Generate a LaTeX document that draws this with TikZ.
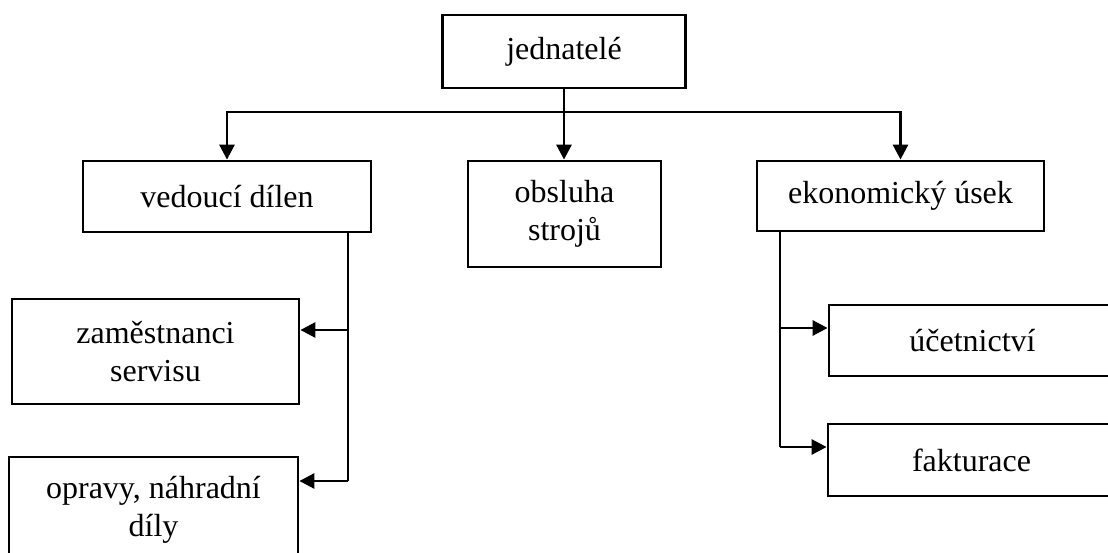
\documentclass[tikz,border=0pt]{standalone}
\usepackage{fontspec}
\setmainfont{Liberation Serif}
\usetikzlibrary{arrows.meta}
\begin{document}
\begin{tikzpicture}[x=1pt,y=-1pt,
  orgbox/.style={draw, line width=2.8pt, inner sep=0pt, align=center,
    font=\fontsize{32}{38}\selectfont},
  link/.style={line width=2.8pt},
  arr/.style={link, -{Triangle[length=15pt,width=15pt]}}]
\useasboundingbox (0,0) rectangle (1108,553);
\clip (0,0) rectangle (1108,553);

% boxes
\node[orgbox, minimum width=243pt, minimum height=73pt] (jed) at (564,51.5) {jednatelé};
\node[orgbox, minimum width=288pt, minimum height=71pt] (ved) at (227,196.5) {vedoucí dílen};
\node[orgbox, minimum width=193pt, minimum height=106pt] (obs) at (564.5,214) {obsluha\\strojů};
\node[orgbox, minimum width=287pt, minimum height=70pt] (eko) at (900.5,196) {ekonomický úsek};
\node[orgbox, minimum width=287pt, minimum height=105pt] (zam) at (155.5,351.5) {zaměstnanci\\servisu};
\node[orgbox, minimum width=289pt, minimum height=105pt] (opr) at (153.5,509.5) {opravy, náhradní\\díly};
\node[orgbox, minimum width=287pt, minimum height=71pt] (uce) at (972.5,340.5) {účetnictví};
\node[orgbox, minimum width=287pt, minimum height=72pt] (fak) at (971.5,460) {fakturace};

% branching points
\coordinate (bar) at (564,112);
\coordinate (vz) at (348,330);
\coordinate (vo) at (348,481);
\coordinate (eu) at (780,328);
\coordinate (ef) at (780,447);

% top level
\draw[link] (jed.south) -- (bar);
\draw[arr] (bar) -| (ved.north);
\draw[arr] (bar) -- (bar |- obs.north);
\draw[arr] (bar) -| (eko.north);

% workshop branch
\draw[link] (ved.south -| vz) -- (vo);
\draw[arr] (vz) -- (zam.east |- vz);
\draw[arr] (vo) -- (opr.east |- vo);

% economic branch
\draw[link] (eko.south -| eu) -- (ef);
\draw[arr] (eu) -- (uce.west |- eu);
\draw[arr] (ef) -- (fak.west |- ef);
\end{tikzpicture}
\end{document}
